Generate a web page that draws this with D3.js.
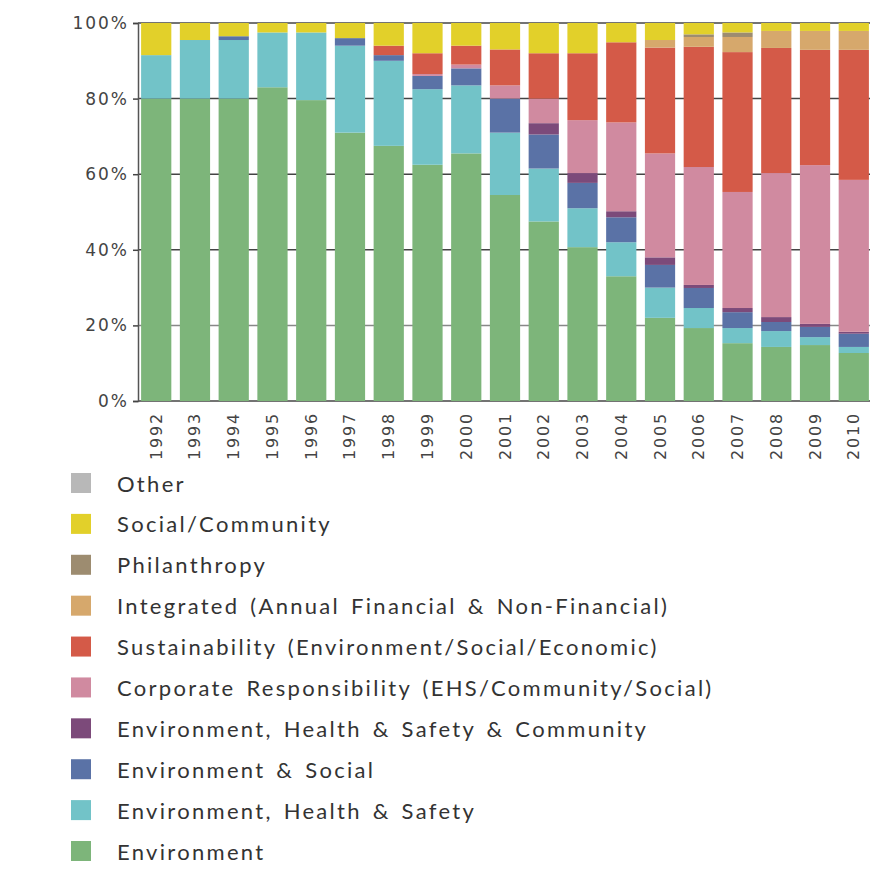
<!DOCTYPE html>
<html>
<head>
<meta charset="utf-8">
<script src="https://cdn.jsdelivr.net/npm/d3@7"></script>
<style>
  html, body { margin: 0; padding: 0; background: #ffffff; }
  svg { display: block; }
</style>
</head>
<body>
<svg id="chart" width="893" height="888"></svg>
<script>
const years = ["1992","1993","1994","1995","1996","1997","1998","1999","2000","2001","2002","2003","2004","2005","2006","2007","2008","2009","2010"];

const environment      = [80, 80, 80, 83, 79.6, 71, 67.5, 62.5, 65.5, 54.5, 47.5, 40.7, 33, 22, 19.3, 15.3, 14.3, 14.8, 12.7];
const envHealthSafety  = [11.5, 15.5, 15.5, 14.5, 17.9, 23, 22.5, 20, 18, 16.5, 14, 10.3, 9, 8, 5.3, 4, 4.2, 2.1, 1.6];
const envSocial        = [0, 0, 1, 0, 0, 2, 1.5, 3.5, 4.5, 9, 9, 6.7, 6.6, 6, 5.3, 4.2, 2.4, 2.7, 3.5];
const ehsCommunity     = [0, 0, 0, 0, 0, 0, 0, 0, 0, 0, 3, 2.6, 1.6, 2, 0.8, 1.1, 1.3, 0.8, 0.5];
const corporateResp    = [0, 0, 0, 0, 0, 0, 0, 0.5, 1, 3.5, 6.5, 14, 23.5, 27.5, 31.2, 30.7, 38.1, 42, 40.2];
const sustainability   = [0, 0, 0, 0, 0, 0, 2.5, 5.5, 5, 9.5, 12, 17.7, 21.2, 28, 31.8, 37, 33.1, 30.5, 34.4];
const integrated       = [0, 0, 0, 0, 0, 0, 0, 0, 0, 0, 0, 0, 0, 2, 2.6, 4, 4.5, 5, 5];
const philanthropy     = [0, 0, 0, 0, 0, 0, 0, 0, 0, 0, 0, 0, 0, 0, 0.7, 1.2, 0, 0, 0];
const socialCommunity  = [8.5, 4.5, 3.5, 2.5, 2.5, 4, 6, 8, 6, 7, 8, 8, 5.1, 4.5, 3, 2.5, 2.1, 2.1, 2.1];
const other            = [0, 0, 0, 0, 0, 0, 0, 0, 0, 0, 0, 0, 0, 0, 0, 0, 0, 0, 0];

// bottom-to-top stacking order
const seriesNames = [
  "Environment",
  "Environment, Health & Safety",
  "Environment & Social",
  "Environment, Health & Safety & Community",
  "Corporate Responsibility (EHS/Community/Social)",
  "Sustainability (Environment/Social/Economic)",
  "Integrated (Annual Financial & Non-Financial)",
  "Philanthropy",
  "Social/Community",
  "Other"
];
const seriesValues = [environment, envHealthSafety, envSocial, ehsCommunity, corporateResp,
                      sustainability, integrated, philanthropy, socialCommunity, other];
const seriesColors = ["#7db57a", "#72c3c8", "#5a72a6", "#7c4a7a", "#d08aa0",
                      "#d45a48", "#d6a86c", "#9d8c70", "#e2d02a", "#b8b8b8"];
const yTicks = [0, 20, 40, 60, 80, 100];
const yTickLabels = ["0%", "20%", "40%", "60%", "80%", "100%"];

// build table for d3.stack
const table = years.map((yr, i) => {
  const row = { year: yr };
  seriesNames.forEach((n, k) => { row[n] = seriesValues[k][i]; });
  return row;
});

const svg = d3.select("#chart");
const mLeft = 138, mRight = 872, mTop = 23, mBottom = 401;

const x = d3.scaleBand().domain(years).range([mLeft, mRight]).paddingInner(0.22).paddingOuter(0.08);
const y = d3.scaleLinear().domain([0, 100]).range([mBottom, mTop]);
const color = d3.scaleOrdinal().domain(seriesNames).range(seriesColors);

// gridlines
svg.append("g").selectAll("line").data(yTicks).join("line")
  .attr("x1", mLeft).attr("x2", mRight - 2)
  .attr("y1", d => y(d)).attr("y2", d => y(d))
  .attr("stroke", d => d === 20 ? "#888" : "#444")
  .attr("stroke-width", 1.5);

// bars
const stacked = d3.stack().keys(seriesNames)(table);
svg.append("g").selectAll("g").data(stacked).join("g")
  .attr("fill", d => color(d.key))
  .selectAll("rect").data(d => d).join("rect")
  .attr("x", d => x(d.data.year))
  .attr("width", x.bandwidth())
  .attr("y", d => y(d[1]))
  .attr("height", d => Math.max(0, y(d[0]) - y(d[1])));

// y axis
const yAxis = d3.axisLeft(y).tickValues(yTicks).tickFormat((d, i) => yTickLabels[i]).tickSize(5).tickPadding(4);
const gy = svg.append("g").attr("transform", `translate(${mLeft},0)`).call(yAxis);
gy.select(".domain").attr("stroke", "#555").attr("stroke-width", 1.5);
gy.selectAll(".tick line").attr("stroke", "#444").attr("stroke-width", 1.5);
gy.selectAll(".tick text")
  .attr("font-family", "'DejaVu Sans', sans-serif")
  .attr("font-size", 17)
  .attr("letter-spacing", 2)
  .attr("fill", "#444");

// x labels
svg.append("g").selectAll("text").data(years).join("text")
  .attr("transform", d => `translate(${x(d) + x.bandwidth() / 2},${mBottom + 11}) rotate(-90)`)
  .attr("text-anchor", "end")
  .attr("dominant-baseline", "central")
  .attr("font-family", "'DejaVu Sans', sans-serif")
  .attr("font-size", 16)
  .attr("letter-spacing", 1.8)
  .attr("fill", "#444")
  .text(d => d);

// legend (top-to-bottom reversed order)
const legendItems = seriesNames.slice().reverse();
const legend = svg.append("g");
const rowY = d3.scalePoint().domain(legendItems).range([483, 851]);
legend.selectAll("rect").data(legendItems).join("rect")
  .attr("x", 71).attr("y", d => rowY(d) - 10)
  .attr("width", 20).attr("height", 20)
  .attr("fill", d => color(d));
legend.selectAll("text").data(legendItems).join("text")
  .attr("x", 117).attr("y", d => rowY(d))
  .attr("dominant-baseline", "central")
  .attr("font-family", "Lato, sans-serif")
  .attr("font-size", 22)
  .attr("letter-spacing", 2.3)
  .attr("word-spacing", 3)
  .attr("fill", "#333")
  .text(d => d);
</script>
</body>
</html>
